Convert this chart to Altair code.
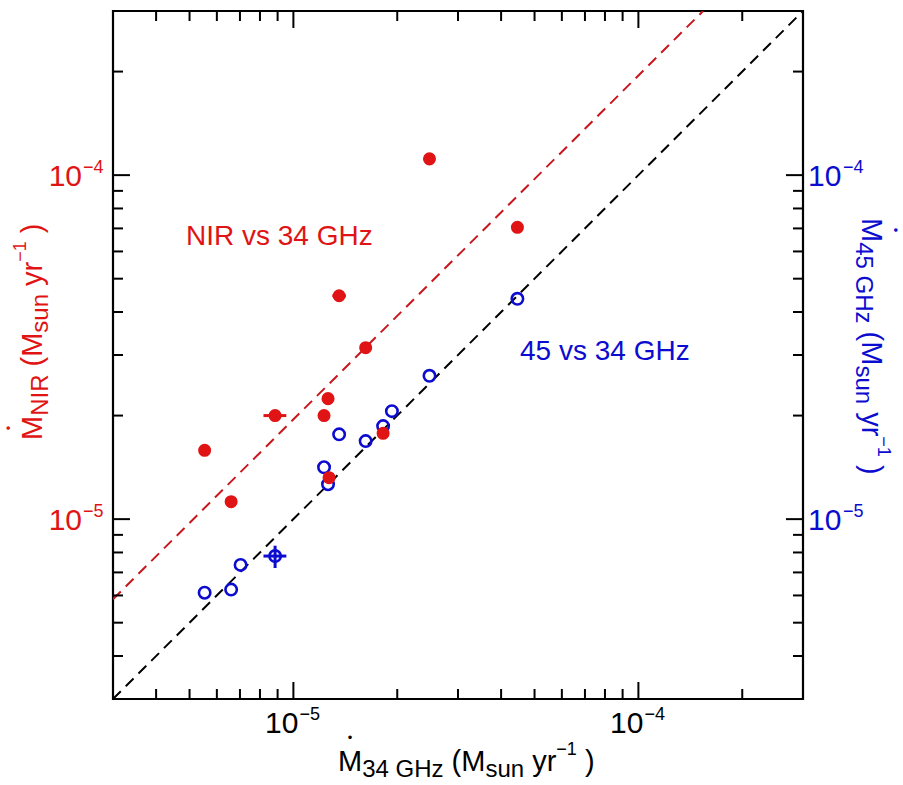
import altair as alt
import pandas as pd

# ---------------- data ----------------
red_x = [5.53e-6, 6.60e-6, 8.85e-6, 1.227e-5, 1.26e-5, 1.269e-5, 1.357e-5, 1.62e-5, 1.82e-5, 2.48e-5, 4.46e-5]
red_y = [1.585e-5, 1.124e-5, 2.00e-5, 2.00e-5, 2.24e-5, 1.32e-5, 4.46e-5, 3.15e-5, 1.776e-5, 1.115e-4, 7.05e-5]

blue_x = [5.53e-6, 6.60e-6, 7.03e-6, 8.85e-6, 1.227e-5, 1.26e-5, 1.357e-5, 1.62e-5, 1.82e-5, 1.93e-5, 2.48e-5, 4.46e-5]
blue_y = [6.11e-6, 6.24e-6, 7.36e-6, 7.81e-6, 1.415e-5, 1.263e-5, 1.764e-5, 1.686e-5, 1.864e-5, 2.06e-5, 2.61e-5, 4.37e-5]

red_err_x = [8.85e-6, 1.357e-5]
red_err_y = [2.00e-5, 4.46e-5]
red_err_xlo = [8.19e-6, 1.297e-5]
red_err_xhi = [9.54e-6, 1.42e-5]

blue_err_x = [8.85e-6]
blue_err_y = [7.81e-6]
blue_err_xlo = [8.19e-6]
blue_err_xhi = [9.54e-6]
blue_err_ylo = [7.21e-6]
blue_err_yhi = [8.37e-6]

one_x = [3e-6, 3e-4]          # 1:1 line
one_y = [3e-6, 3e-4]
fit_x = [3e-6, 1.54e-4]       # NIR vs 34 GHz relation
fit_y = [5.85e-6, 3e-4]

major_ticks = [1e-5, 1e-4]
major_exp = ["\u22125", "\u22124"]
minor_ticks = [4e-6, 5e-6, 6e-6, 7e-6, 8e-6, 9e-6,
               2e-5, 3e-5, 4e-5, 5e-5, 6e-5, 7e-5, 8e-5, 9e-5, 2e-4]

# ---------------- style / geometry ----------------
FONT = "Liberation Sans, Arial, Helvetica, sans-serif"
RED = "#e01414"
RED_LINE = "#c8161d"
BLUE = "#0c0cd0"
W, H = 690, 688
PAD_L, PAD_T = 113, 11
MAJ_LEN, MIN_LEN = 17, 10
FS, FS_SUB, FS_SUP = 29, 24, 18
FS_TICK = 30
SUB_DROP, SUP_RAISE = 6, 16
DOT_GAP = 13      # distance from cap top to dot centre
DOT_FS = 13

xs = alt.Scale(type="log", domain=[3e-6, 3e-4], nice=False)
ys = alt.Scale(type="log", domain=[3e-6, 3e-4], nice=False)

# ---------------- data marks ----------------
lines_one = alt.Chart(pd.DataFrame({"x": one_x, "y": one_y})).mark_line(
    color="black", strokeWidth=2, strokeDash=[11, 7], clip=True
).encode(x=alt.X("x:Q", scale=xs, axis=None), y=alt.Y("y:Q", scale=ys, axis=None))

lines_fit = alt.Chart(pd.DataFrame({"x": fit_x, "y": fit_y})).mark_line(
    color=RED_LINE, strokeWidth=2, strokeDash=[11, 7], clip=True
).encode(x=alt.X("x:Q", scale=xs, axis=None), y=alt.Y("y:Q", scale=ys, axis=None))

blue_pts = alt.Chart(pd.DataFrame({"x": blue_x, "y": blue_y})).mark_point(
    shape="circle", filled=False, color=BLUE, size=130, strokeWidth=2.6, opacity=1
).encode(x=alt.X("x:Q", scale=xs, axis=None), y=alt.Y("y:Q", scale=ys, axis=None))

blue_eh = alt.Chart(pd.DataFrame({"y": blue_err_y, "lo": blue_err_xlo, "hi": blue_err_xhi})).mark_rule(
    color=BLUE, strokeWidth=3
).encode(x=alt.X("lo:Q", scale=xs, axis=None), x2="hi:Q", y=alt.Y("y:Q", scale=ys, axis=None))

blue_ev = alt.Chart(pd.DataFrame({"x": blue_err_x, "lo": blue_err_ylo, "hi": blue_err_yhi})).mark_rule(
    color=BLUE, strokeWidth=3
).encode(y=alt.Y("lo:Q", scale=ys, axis=None), y2="hi:Q", x=alt.X("x:Q", scale=xs, axis=None))

red_eh = alt.Chart(pd.DataFrame({"y": red_err_y, "lo": red_err_xlo, "hi": red_err_xhi})).mark_rule(
    color=RED, strokeWidth=3
).encode(x=alt.X("lo:Q", scale=xs, axis=None), x2="hi:Q", y=alt.Y("y:Q", scale=ys, axis=None))

red_pts = alt.Chart(pd.DataFrame({"x": red_x, "y": red_y})).mark_point(
    shape="circle", filled=True, color=RED, size=170, opacity=1, strokeWidth=0
).encode(x=alt.X("x:Q", scale=xs, axis=None), y=alt.Y("y:Q", scale=ys, axis=None))

# ---------------- inward ticks on all four sides ----------------
def tick_layers(vals, length):
    df = pd.DataFrame({"v": vals})
    base = alt.Chart(df).mark_rule(color="black", strokeWidth=2)
    xenc = alt.X("v:Q", scale=xs, axis=None)
    yenc = alt.Y("v:Q", scale=ys, axis=None)
    return [
        base.encode(x=xenc, y=alt.value(H), y2=alt.value(H - length)),
        base.encode(x=xenc, y=alt.value(0), y2=alt.value(length)),
        base.encode(y=yenc, x=alt.value(0), x2=alt.value(length)),
        base.encode(y=yenc, x=alt.value(W), x2=alt.value(W - length)),
    ]

ticks = tick_layers(major_ticks, MAJ_LEN) + tick_layers(minor_ticks, MIN_LEN)

# ---------------- tick labels (10 with superscript exponent) ----------------
lab_df = pd.DataFrame({"v": major_ticks, "b": ["10", "10"], "e": major_exp})
lab = alt.Chart(lab_df)
xl = alt.X("v:Q", scale=xs, axis=None)
yl = alt.Y("v:Q", scale=ys, axis=None)
tick_labels = [
    lab.mark_text(align="right", baseline="alphabetic", fontSize=FS_TICK, font=FONT, dx=5, color="black")
       .encode(x=xl, y=alt.value(H + 34), text="b:N"),
    lab.mark_text(align="left", baseline="alphabetic", fontSize=FS_SUP, font=FONT, dx=6, color="black")
       .encode(x=xl, y=alt.value(H + 21), text="e:N"),
    lab.mark_text(align="right", baseline="alphabetic", fontSize=FS_TICK, font=FONT, dy=10.7, color=RED)
       .encode(y=yl, x=alt.value(-31), text="b:N"),
    lab.mark_text(align="left", baseline="alphabetic", fontSize=FS_SUP, font=FONT, dy=-2.5, color=RED)
       .encode(y=yl, x=alt.value(-30), text="e:N"),
    lab.mark_text(align="left", baseline="alphabetic", fontSize=FS_TICK, font=FONT, dy=10.7, color=BLUE)
       .encode(y=yl, x=alt.value(W + 5), text="b:N"),
    lab.mark_text(align="left", baseline="alphabetic", fontSize=FS_SUP, font=FONT, dy=-2.5, color=BLUE)
       .encode(y=yl, x=alt.value(W + 40), text="e:N"),
]

# ---------------- axis titles built from pieces (sub/superscripts) ----------------
CW = {"0": .556, "1": .556, "2": .556, "3": .556, "4": .556, "5": .556, " ": .278,
      "M": .833, "N": .722, "I": .278, "R": .722, "G": .778, "H": .722, "z": .5,
      "s": .5, "u": .556, "n": .556, "y": .5, "r": .333, "(": .333, ")": .333,
      "\u2212": .584}

def tw(s, fs):
    return sum(CW.get(c, .556) for c in s) * fs

def title_rows(segs, start, base, direction):
    """segs: (text, kind, leading_space). direction: 'h', 'up' (angle 270), 'down' (angle 90)."""
    rows = []
    pos = start
    dot = None
    for txt, kind, space in segs:
        fs = {"n": FS, "sub": FS_SUB, "sup": FS_SUP}[kind]
        shift = {"n": 0, "sub": SUB_DROP, "sup": -SUP_RAISE}[kind]   # + = down in text frame
        adv = 0.278 * FS if space else 0
        w = tw(txt, fs)
        lift = 0.717 * fs + DOT_GAP - 0.36 * DOT_FS     # baseline of the bullet glyph
        if direction == "h":
            pos += adv
            rows.append({"x": pos, "y": base + shift, "t": txt, "fs": fs})
            if dot is None:
                dot = {"x": pos + w / 2, "y": base - lift, "t": "\u2022", "fs": DOT_FS}
            pos += w
        elif direction == "up":      # text top points to -x
            pos -= adv
            rows.append({"x": base + shift, "y": pos, "t": txt, "fs": fs})
            if dot is None:
                dot = {"x": base - lift, "y": pos - w / 2, "t": "\u2022", "fs": DOT_FS}
            pos -= w
        else:                         # text top points to +x
            pos += adv
            rows.append({"x": base - shift, "y": pos, "t": txt, "fs": fs})
            if dot is None:
                dot = {"x": base + lift, "y": pos + w / 2, "t": "\u2022", "fs": DOT_FS}
            pos += w
    return pd.DataFrame(rows), pd.DataFrame([dot])

def title_layers(segs, start, base, direction, color):
    angle = {"h": 0, "up": 270, "down": 90}[direction]
    df, dot = title_rows(segs, start, base, direction)
    t = alt.Chart(df).mark_text(align="left", baseline="alphabetic", font=FONT, color=color, angle=angle).encode(
        x=alt.X("x:Q", scale=None), y=alt.Y("y:Q", scale=None), text="t:N", size=alt.Size("fs:Q", scale=None))
    d = alt.Chart(dot).mark_text(align="center", baseline="alphabetic", font=FONT, color=color, angle=angle).encode(
        x=alt.X("x:Q", scale=None), y=alt.Y("y:Q", scale=None), text="t:N", size=alt.Size("fs:Q", scale=None))
    return [t, d]

def unit_segs(sub):
    return [("M", "n", False), (sub, "sub", False), ("(M", "n", True), ("sun", "sub", False),
            ("yr", "n", True), ("\u22121", "sup", False), (")", "n", True)]

x_title = title_layers(unit_segs("34 GHz"), 338 - PAD_L, 771 - PAD_T, "h", "black")
yl_title = title_layers(unit_segs("NIR"), 440 - PAD_T, 42 - PAD_L, "up", RED)
yr_title = title_layers(unit_segs("45 GHz"), 218 - PAD_T, 862 - PAD_L, "down", BLUE)

# ---------------- annotations ----------------
ann_df = pd.DataFrame({"t": ["NIR vs 34 GHz"]})
ann_red = alt.Chart(ann_df).mark_text(align="left", baseline="alphabetic", fontSize=28, font=FONT, color=RED).encode(
    x=alt.value(186 - PAD_L), y=alt.value(245 - PAD_T), text="t:N")
ann_df2 = pd.DataFrame({"t": ["45 vs 34 GHz"]})
ann_blue = alt.Chart(ann_df2).mark_text(align="left", baseline="alphabetic", fontSize=28, font=FONT, color=BLUE).encode(
    x=alt.value(520 - PAD_L), y=alt.value(360 - PAD_T), text="t:N")

chart = alt.layer(
    lines_one, lines_fit, blue_eh, blue_ev, blue_pts, red_eh, red_pts,
    *ticks, *tick_labels, *x_title, *yl_title, *yr_title, ann_red, ann_blue
).properties(
    width=W, height=H,
    autosize=alt.AutoSizeParams(type="none"),
    padding={"left": PAD_L, "top": PAD_T, "right": 903 - PAD_L - W, "bottom": 785 - PAD_T - H},
    background="white",
).configure_view(stroke="black", strokeWidth=2.2)

chart.save("out.html", embed_options={"renderer": "svg", "actions": False})
